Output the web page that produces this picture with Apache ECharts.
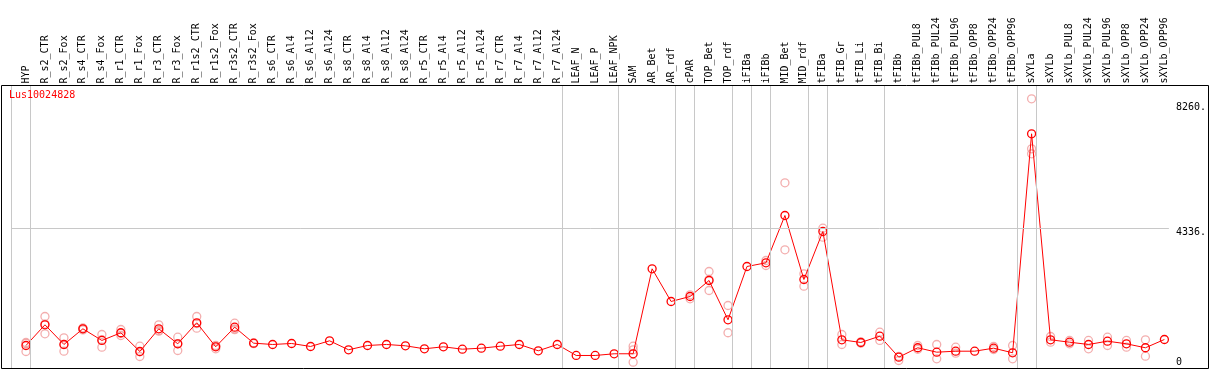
<!DOCTYPE html>
<html>
<head>
<meta charset="utf-8">
<script src="https://cdn.jsdelivr.net/npm/echarts@6/dist/echarts.min.js"></script>
<style>
  html, body { margin: 0; padding: 0; background: #fff; }
  #chart { width: 1209px; height: 370px; }
</style>
</head>
<body>
<div id="chart"></div>
<script>
// sample names, left to right
const categories = [
  'HYP',
  'R_s2_CTR', 'R_s2_Fox', 'R_s4_CTR', 'R_s4_Fox', 'R_r1_CTR', 'R_r1_Fox', 'R_r3_CTR', 'R_r3_Fox',
  'R_r1s2_CTR', 'R_r1s2_Fox', 'R_r3s2_CTR', 'R_r3s2_Fox',
  'R_s6_CTR', 'R_s6_Al4', 'R_s6_Al12', 'R_s6_Al24',
  'R_s8_CTR', 'R_s8_Al4', 'R_s8_Al12', 'R_s8_Al24',
  'R_r5_CTR', 'R_r5_Al4', 'R_r5_Al12', 'R_r5_Al24',
  'R_r7_CTR', 'R_r7_Al4', 'R_r7_Al12', 'R_r7_Al24',
  'LEAF_N', 'LEAF_P', 'LEAF_NPK',
  'SAM', 'AR_Bet', 'AR_rdf',
  'cPAR',
  'TOP_Bet', 'TOP_rdf',
  'iFIBa',
  'iFIBb',
  'MID_Bet', 'MID_rdf',
  'tFIBa',
  'tFIB_Gr', 'tFIB_Li', 'tFIB_Bi',
  'tFIBb', 'tFIBb_PUL8', 'tFIBb_PUL24', 'tFIBb_PUL96', 'tFIBb_OPP8', 'tFIBb_OPP24', 'tFIBb_OPP96',
  'sXYLa',
  'sXYLb', 'sXYLb_PUL8', 'sXYLb_PUL24', 'sXYLb_PUL96', 'sXYLb_OPP8', 'sXYLb_OPP24', 'sXYLb_OPP96'
];

// mean expression per sample
const means = [
  542,
  1214, 575, 1084, 705, 955, 347, 1084, 597,
  1279, 500, 1136, 617,
  575, 607, 510, 695,
  403, 542, 575, 532,
  435, 500, 422, 455,
  519, 575, 370, 575,
  218, 218, 273,
  273, 3032, 1971,
  2133,
  2653, 1377,
  3107,
  3227,
  4763, 2685,
  4244,
  727, 640, 844,
  162, 468, 325, 357, 357, 455, 305,
  7416,
  727, 649, 575, 682, 597, 468, 737
];

// replicates (null = not visible / hidden under the mean)
const repA = [
  640,
  1484, 792, 1050, 899, 1062, 519, 1214, 812,
  1484, 542, 1266, 600,
  null, null, null, null,
  null, null, null, null,
  null, null, null, null,
  null, null, null, null,
  null, null, null,
  519, null, null,
  2188,
  2945, 1841,
  null,
  3302,
  5825, 2870,
  4351,
  899, 660, 974,
  55, 542, 575, 487, null, 510, 542,
  8552,
  834, 705, 705, 812, 705, 727, null
];
const repB = [
  610,
  922, 357, 1110, 487, 867, 185, 1029, 380,
  1104, 435, 1084, 630,
  null, null, null, null,
  null, null, null, null,
  null, null, null, null,
  null, null, null, null,
  null, null, null,
  403, null, null,
  2058,
  2328, 955,
  null,
  3140,
  3649, 2468,
  4058,
  575, 620, 705,
  190, 420, 110, 292, null, 410, 110,
  6929,
  649, 597, 435, 542, 487, 195, null
];
const repC = [
  347,
  1236, 576, 1090, 729, 936, 337, 1009, 599,
  1249, 523, 1058, null,
  null, null, null, null,
  null, null, null, null,
  null, null, null, null,
  null, null, null, null,
  null, null, null,
  0, null, null,
  null,
  2686, null,
  null,
  null,
  null, null,
  null,
  null, null, null,
  null, null, null, null, null, null, null,
  6766,
  null, null, null, null, null, null, null
];

// right-hand tick labels
const yTicks = [0, 4336, 8260];
// vertical separators are drawn after these sample indices
const groupEnds = [-1, 0, 28, 31, 34, 35, 37, 38, 39, 41, 42, 45, 52, 53, 60];

const FONT = 'DejaVu Sans Mono';
const X_MIN = -14.5 / 19;
const SEP_SHIFT = 4.5 / 19;
const CLEAR = 'rgba(0,0,0,0)';

const repPoints = [];
[repA, repB, repC].forEach(function (arr) {
  arr.forEach(function (v, i) { if (v !== null) repPoints.push([i, v]); });
});
const meanPoints = means.map(function (v, i) { return [i, v]; });

const chart = echarts.init(document.getElementById('chart'), null, { renderer: 'canvas' });
chart.setOption({
  animation: false,
  title: {
    text: 'Lus10024828', left: 9, top: 90, padding: 0,
    textStyle: { color: '#ff0000', fontFamily: FONT, fontSize: 10, fontWeight: 'normal' }
  },
  graphic: [{
    type: 'rect', silent: true, z: 100,
    shape: { x: 1.5, y: 85.5, width: 1207, height: 283 },
    style: { fill: 'none', stroke: '#000', lineWidth: 1 }
  }],
  grid: { left: 11.5, top: 85.5, width: 1159, height: 283 },
  xAxis: {
    type: 'value', position: 'top',
    min: X_MIN, max: X_MIN + 61,
    axisLine: { show: false }, axisTick: { show: false }, splitLine: { show: false },
    axisLabel: {
      customValues: categories.map(function (_, i) { return i; }),
      formatter: function (v) { return categories[Math.round(v)] || ''; },
      rotate: 90, margin: 2, color: '#000', fontFamily: FONT, fontSize: 10
    }
  },
  yAxis: {
    type: 'value', position: 'right',
    min: -205, max: 8984,
    axisLine: { show: false }, axisTick: { show: false }, splitLine: { show: false },
    axisLabel: {
      customValues: yTicks,
      formatter: function (v) { return v === 0 ? '0' : (v === 4336 ? '{lo|' + v + '.}' : v + '.'); },
      margin: 7, align: 'left', color: '#000', fontFamily: FONT, fontSize: 10,
      rich: { lo: { padding: [8, 0, 0, 0], color: '#000', fontFamily: FONT, fontSize: 10 } }
    }
  },
  series: [
    {
      // separators and the mid grid line
      type: 'line', data: [], z: 1, silent: true,
      markLine: {
        silent: true, symbol: 'none', label: { show: false }, animation: false,
        lineStyle: { color: '#c8c8c8', width: 1, type: 'solid' },
        data: groupEnds.map(function (k) { return { xAxis: k + SEP_SHIFT }; })
          .concat([{ yAxis: yTicks[1] }])
      }
    },
    {
      name: 'replicates', type: 'scatter', z: 2,
      symbol: 'circle', symbolSize: 8,
      itemStyle: { color: CLEAR, borderColor: '#f09a9a', borderWidth: 1.3 },
      data: repPoints
    },
    {
      name: 'mean', type: 'line', z: 3,
      symbol: 'circle', symbolSize: 8, showAllSymbol: true,
      lineStyle: { color: '#ff0000', width: 1 },
      itemStyle: { color: CLEAR, borderColor: '#ff0000', borderWidth: 1.3 },
      data: meanPoints
    }
  ]
});
</script>
</body>
</html>
